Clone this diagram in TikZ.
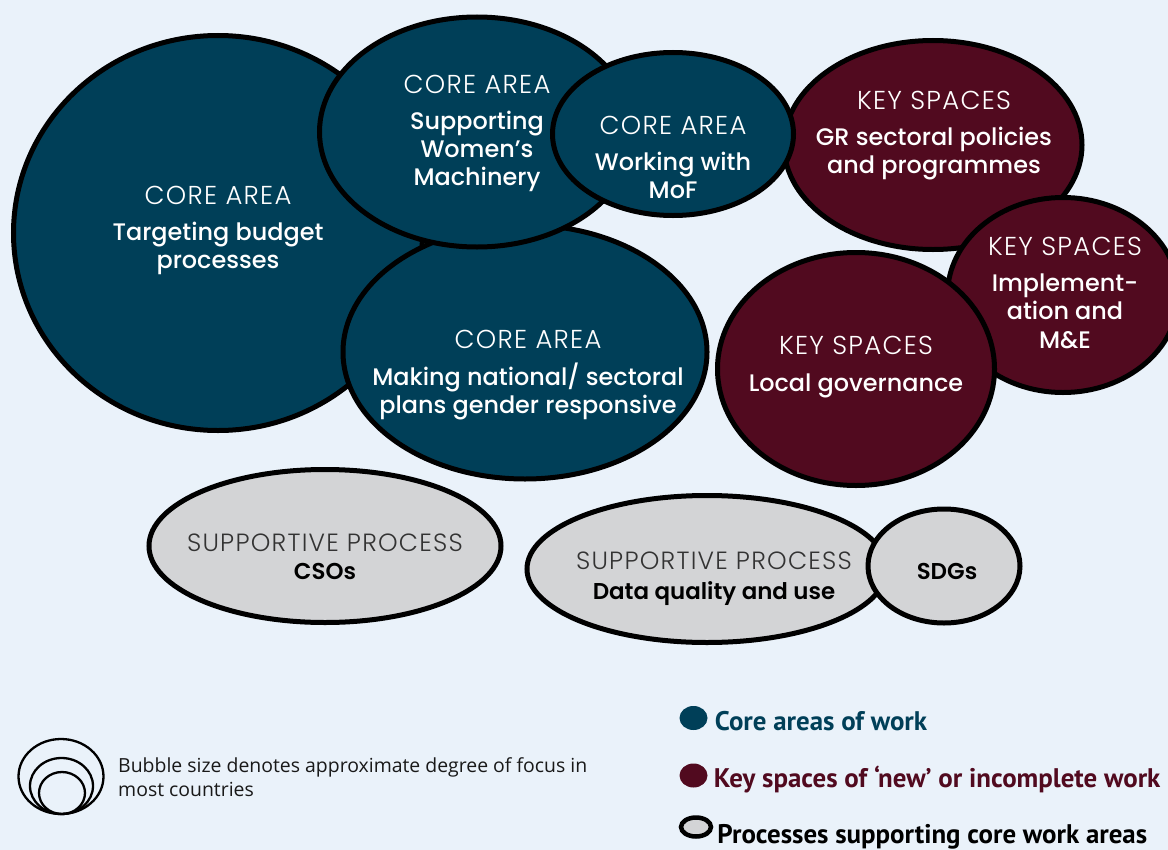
\documentclass[tikz,border=0pt]{standalone}
\usepackage{fontspec}
\usetikzlibrary{shapes.geometric, positioning}

\newfontfamily\lightf{Poppins Light}[LetterSpace=5]
\newfontfamily\boldf{Poppins Medium}
\newfontfamily\sboldf{Poppins SemiBold}
\newfontfamily\legf{PT Sans}
\newfontfamily\notef{Open Sans}

\definecolor{bgblue}{HTML}{EAF2FA}
\definecolor{coreblue}{HTML}{003F58}
\definecolor{keyred}{HTML}{510A1F}
\definecolor{suppgray}{HTML}{D3D4D6}

\begin{document}
\begin{tikzpicture}[x=1bp, y=-1bp,
    bubble/.style={ellipse, draw=black, line width=5bp, inner sep=0pt},
    core/.style={bubble, fill=coreblue},
    key/.style={bubble, fill=keyred},
    supp/.style={bubble, fill=suppgray},
    head/.style={inner sep=0pt, text=white, font=\lightf\fontsize{26}{30}\selectfont},
    body/.style={inner sep=0pt, text=white, align=center, font=\boldf\fontsize{24}{28.5}\selectfont},
    shead/.style={head, text=black!80, font=\lightf\fontsize{25}{28}\selectfont},
    sbody/.style={body, text=black, font=\sboldf\fontsize{23}{28}\selectfont},
    ring/.style={ellipse, draw=black, line width=2.3bp, inner sep=0pt, outer sep=0pt, anchor=south},
    legdot/.style={ellipse, inner sep=0pt, minimum width=28bp, minimum height=24bp},
    legtext/.style={anchor=base west, inner sep=0pt, font=\legf\bfseries\fontsize{27}{30}\selectfont}]

  \useasboundingbox[fill=bgblue] (0,0) rectangle (1168,850);

  % bubbles, back to front
  \node[core, minimum width=409bp, minimum height=395bp] (tbp) at (218,233) {};
  \node[core, minimum width=364bp, minimum height=254bp] (mnp) at (525,352) {};
  \node[core, minimum width=315bp, minimum height=230bp] (swm) at (477,132) {};
  \node[key,  minimum width=298bp, minimum height=209bp] (grp) at (933,145) {};
  \node[core, minimum width=241bp, minimum height=163bp] (mof) at (673,134) {};
  \node[key,  minimum width=231bp, minimum height=195bp] (ime) at (1063,295) {};
  \node[key,  minimum width=277bp, minimum height=233bp] (lgv) at (856,369) {};
  \node[supp, minimum width=352bp, minimum height=153bp] (cso) at (325,546) {};
  \node[supp, minimum width=360bp, minimum height=147bp] (dqu) at (707,569) {};
  \node[supp, minimum width=152bp, minimum height=114bp] (sdg) at (944,566) {};

  % bubble texts
  \node[head] (tbp-h) at (218,195) {CORE AREA};
  \node[body, below=17bp of tbp-h] (tbp-b) {Targeting budget\\processes};
  \node[head] (swm-h) at (477,84) {CORE AREA};
  \node[body, below=17bp of swm-h] (swm-b) {Supporting\\Women’s\\Machinery};
  \node[head] (mof-h) at (673,125) {CORE AREA};
  \node[body, below=17bp of mof-h] (mof-b) {Working with\\MoF};
  \node[head] (mnp-h) at (528,339) {CORE AREA};
  \node[body, below=14bp of mnp-h] (mnp-b) {Making national/ sectoral\\plans gender responsive};
  \node[head] (grp-h) at (934,100) {KEY SPACES};
  \node[body, below=17bp of grp-h] (grp-b) {GR sectoral policies\\and programmes};
  \node[head] (ime-h) at (1065,246) {KEY SPACES};
  \node[body, below=18bp of ime-h] (ime-b) {Implement-\\ation and\\M\&E};
  \node[head] (lgv-h) at (856,345) {KEY SPACES};
  \node[body, below=19bp of lgv-h] (lgv-b) {Local governance};
  \node[shead] (cso-h) at (325,543) {SUPPORTIVE PROCESS};
  \node[sbody, below=11bp of cso-h] (cso-b) {CSOs};
  \node[shead] (dqu-h) at (714,561) {SUPPORTIVE PROCESS};
  \node[sbody, below=11bp of dqu-h] (dqu-b) {Data quality and use};
  \node[sbody] (sdg-b) at (947,571) {SDGs};

  % size note
  \node[ring, minimum width=85bp, minimum height=75bp] (ico-l) at (61,814) {};
  \node[ring, minimum width=63bp, minimum height=56bp] (ico-m) at (61.5,814) {};
  \node[ring, minimum width=46bp, minimum height=42bp] (ico-s) at (62,814) {};
  \node[anchor=north west, inner sep=0pt, align=left, text=black!90,
        font=\notef\fontsize{19.5}{25}\selectfont] (note) at (118,757)
        {Bubble size denotes approximate degree of focus in\\most countries};

  % key
  \node[legdot, fill=coreblue] (leg-core) at (693.5,718) {};
  \node[legdot, fill=keyred] (leg-key) at (693.5,775.5) {};
  \node[legdot, fill=suppgray, draw=black, line width=4.5bp, minimum width=30bp, minimum height=19bp] (leg-supp) at (696,827) {};
  \node[legtext, text=coreblue] (leg-core-t) at ([xshift=7bp, yshift=-12bp]leg-core.east) {Core areas of work};
  \node[legtext, text=keyred] (leg-key-t) at ([xshift=6bp, yshift=-12bp]leg-key.east) {Key spaces of ‘new’ or incomplete work};
  \node[legtext, text=black] (leg-supp-t) at ([xshift=4bp, yshift=-16bp]leg-supp.east) {Processes supporting core work areas};
\end{tikzpicture}
\end{document}
